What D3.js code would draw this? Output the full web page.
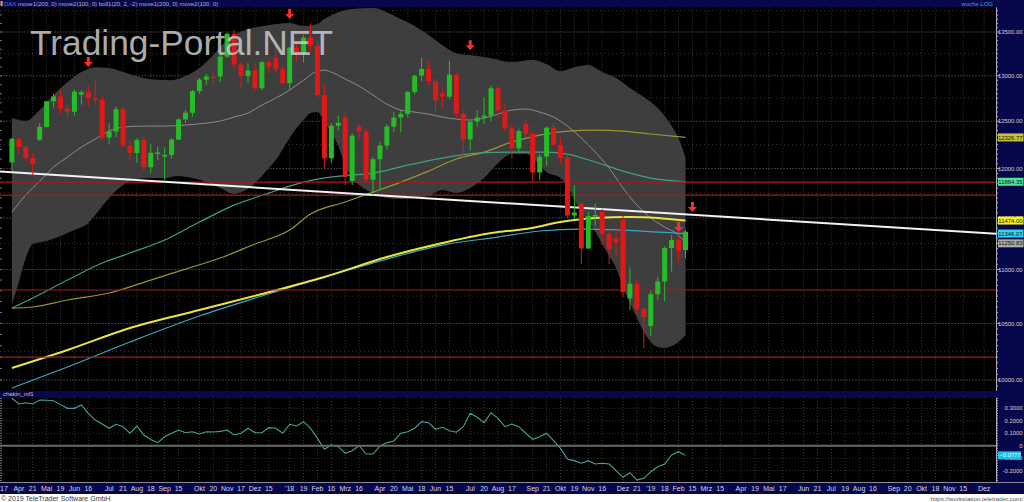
<!DOCTYPE html>
<html><head><meta charset="utf-8">
<script src="https://cdn.jsdelivr.net/npm/d3@7/dist/d3.min.js"></script>
<style>
html,body{margin:0;padding:0;background:#fff;overflow:hidden;}
svg{display:block;font-family:"Liberation Sans",Arial,sans-serif;}
</style></head><body>
<svg id="c" width="1024" height="502"></svg>
<script>
// ---------------- DATA ----------------
// weekly candles, DAX, first week starts Monday 2017-03-27
const firstWeek = "2017-03-27", lastWeek = "2019-02-04";
const open  = [12064,12313,12225,12109,12300,12438,12717,12770,12638,12602,12790,12816,12753,12733,12325,12389,12631,12240,12163,12298,12014,12165,12125,12143,12304,12519,12592,12829,12956,12992,12991,13217,13479,13127,12994,13060,12861,13154,13200,13073,12918,13320,13245,13434,13340,12785,12107,12452,12540,11870,12440,12390,11886,12097,12241,12442,12540,12580,12820,13001,13077,12938,12800,12767,13011,12580,12306,12496,12541,12561,12860,12616,12424,12211,12470,12364,11959,12124,12431,12247,12112,11524,11640,11201,11519,11560,11341,11300,11480,10730,10866,10634,10477,10768,10887,11205,11282,11186];
const high  = [12320,12318,12240,12160,12480,12720,12800,12841,12680,12850,12840,12890,12951,12780,12480,12660,12660,12300,12320,12330,12260,12230,12220,12320,12530,12620,12840,12975,13020,13060,13250,13490,13526,13160,13140,13140,13170,13200,13340,13110,13330,13380,13470,13596,13400,12900,12480,12560,12600,12370,12470,12420,12120,12280,12470,12600,12620,12830,13010,13204,13170,12960,12880,13170,13030,12620,12500,12620,12760,12890,12890,12690,12470,12420,12530,12390,12150,12440,12480,12330,12150,11830,11660,11560,11640,11590,11380,11400,11520,11020,10900,10640,10800,10930,11220,11330,11330,11380];
const low   = [11970,12150,12080,11936,12290,12430,12650,12580,12540,12560,12680,12660,12690,12300,12250,12330,12210,12080,12060,11980,11950,12090,11868,12100,12300,12480,12550,12800,12900,12890,12930,13200,13090,12860,12920,12830,12840,13030,13040,12900,12840,13160,13150,13280,12750,12003,12060,12400,11831,11830,12310,11860,11726,11780,12200,12380,12380,12540,12790,12940,12900,12600,12650,12740,12520,12104,12190,12440,12470,12500,12530,12390,12104,12170,12330,11865,11880,12030,12240,12060,11500,11490,11051,11200,11420,11240,11050,11120,10740,10620,10580,10279,10386,10720,10700,10980,11064,11109];
const close = [12313,12225,12109,12049,12438,12717,12770,12638,12602,12823,12816,12753,12733,12325,12389,12631,12240,12163,12298,12014,12165,12168,12143,12304,12519,12592,12829,12956,12992,12991,13217,13479,13127,12994,13060,12861,13154,13104,13073,12918,13320,13245,13434,13340,12785,12107,12452,12483,11914,12346,12390,11886,12097,12241,12442,12540,12580,12820,13001,13077,12938,12724,12767,13011,12580,12306,12496,12541,12561,12860,12616,12424,12211,12395,12364,11959,12124,12431,12247,12112,11524,11554,11201,11519,11529,11341,11193,11257,10788,10866,10634,10559,10768,10887,11205,11282,11181,11364];

// Bollinger (20, 2) read at these week indices
const bollUpperWeeks = [0,2,4,6,8,10,12,14,17,20,23,25,27,29,31,34,37,40,42,44,45,47,49,52,54,56,58,60,62,64,66,69,72,75,77,79,81,83,85,87,89,91,93,95,96,97];
const bollUpper      = [12534,12502,12621,12785,12929,13041,13097,13086,13018,12962,12951,12996,13086,13234,13406,13534,13580,13604,13569,13592,13651,13733,13769,13781,13733,13651,13569,13464,13348,13256,13234,13199,13154,13177,13131,13052,13097,13120,13041,12974,12863,12763,12643,12448,12320,12109];
const bollLowerWeeks = [0,1,2,3,5,7,9,11,12,14,16,18,20,22,24,26,28,30,32,33,34,35,36,37,38,39,40,41,42,43,44,45,46,47,48,49,50,52,54,56,58,60,62,64,66,68,70,71,72,74,76,77,79,80,81,82,83,84,85,86,87,88,89,90,91,92,93,94,95,96,97];
const bollLower      = [10668,10882,11109,11244,11273,11322,11380,11449,11529,11699,11831,11892,11902,11902,11923,11902,11861,11800,11739,11759,11790,11851,11923,12005,12088,12203,12320,12427,12513,12588,12599,12491,12373,12235,12036,11902,11831,11749,11699,11689,11699,11719,11780,11749,11800,11902,12057,12120,12151,12151,12036,11964,11902,11820,11679,11558,11459,11361,11244,11128,11014,10835,10686,10549,10422,10333,10289,10280,10297,10333,10396];
const bollMidWeeks   = [0,2,4,6,8,10,12,14,16,19,22,25,28,30,32,34,36,38,40,42,44,45,46,48,50,52,54,56,58,60,62,64,66,68,70,72,74,76,78,80,82,84,86,88,90,92,94,96,97];
const bollMid        = [11558,11729,11871,12016,12120,12225,12309,12394,12437,12448,12448,12459,12480,12502,12545,12588,12675,12752,12840,12951,13052,13063,13041,12963,12885,12785,12686,12621,12599,12577,12545,12523,12513,12534,12577,12621,12632,12599,12545,12448,12320,12172,12005,11800,11628,11499,11410,11331,11250.83];

// moving averages read at these week indices
const maOliveWeeks  = [0,3,8,14,20,25,30,35,40,43,48,52,56,60,64,68,72,76,80,84,88,92,97];
const maOlive       = [10640,10650,10714,10779,10900,11004,11109,11244,11380,11538,11659,11759,11861,11974,12099,12172,12277,12352,12394,12405,12394,12363,12326.77];
const maTealWeeks   = [0,3,8,13,17,22,27,32,37,40,44,48,52,57,62,67,72,77,80,84,88,92,97];
const maTeal        = [10640,10733,10900,11061,11157,11283,11459,11628,11749,11820,11892,11928,11954,12036,12109,12161,12172,12172,12151,12068,11974,11902,11864.35];
const maYellowWeeks = [0,8,17,27,36,45,54,62,70,74,79,84,89,93,97];
const maYellow      = [10104,10262,10459,10622,10770,10929,11119,11254,11361,11390,11459,11499,11509,11499,11474.00];
const maCyanWeeks   = [0,8,17,27,36,45,54,62,70,76,82,88,93,97];
const maCyan        = [9931,10113,10333,10567,10751,10929,11099,11234,11312,11371,11390,11380,11361,11346.07];

// horizontal support/resistance levels and trend line
const levels = [11861, 11729, 10807, 10200];
const trendDates = ["2017-03-15", "2019-12-15"];
const trendValues = [11969, 11343];

// sell signal arrows
const signalDates  = ["2017-06-12","2018-01-01","2018-07-02","2019-01-28","2019-02-11"];
const signalValues = [13154, 13710, 13348, 11410, 11608];

// chaikin money flow, weekly
const chaikin = [0.381,0.335,0.345,0.335,0.367,0.365,0.361,0.330,0.300,0.300,0.327,0.260,0.206,0.175,0.140,0.172,0.153,0.100,0.158,0.086,0.050,0.024,0.072,0.100,0.126,0.104,0.112,0.094,0.112,0.110,0.115,0.126,0.086,0.100,0.140,0.104,0.104,0.145,0.140,0.100,0.172,0.158,0.193,0.140,0.059,-0.029,0.006,-0.008,-0.061,-0.040,0.000,-0.067,-0.067,-0.002,0.024,0.038,0.100,0.112,0.140,0.193,0.185,0.132,0.148,0.120,0.108,0.153,0.260,0.228,0.185,0.265,0.220,0.153,0.174,0.153,0.100,0.051,0.072,0.100,0.040,-0.021,-0.109,-0.120,-0.141,-0.120,-0.147,-0.141,-0.147,-0.201,-0.254,-0.217,-0.276,-0.262,-0.209,-0.169,-0.147,-0.075,-0.048,-0.0777];

// axes
const priceTicks = [13500,13000,12500,12000,11500,11000,10500,10000];
const priceGrid = [13750,13500,13250,13000,12750,12500,12250,12000,11750,11500,11250,11000,10750,10500,10250,10000];
const tagValues = [12326.77, 11864.35, 11474.00, 11346.07, 11250.83];
const chaikinTicks = [0.3,0.2,0.1,0,-0.1,-0.2];
const chaikinTickLabels = ["0.3000","0.2000","0.1000","0","-0.1000","-0.2000"];
const chaikinTag = -0.0777;
// month labels sit on the week of the first Friday of each month
const monthTickDates = ["2017-04-07","2017-05-05","2017-06-02","2017-07-07","2017-08-04","2017-09-01","2017-10-06","2017-11-03","2017-12-01","2018-01-05","2018-02-02","2018-03-02","2018-04-06","2018-05-04","2018-06-01","2018-07-06","2018-08-03","2018-09-07","2018-10-05","2018-11-02","2018-12-07","2019-01-04","2019-02-01","2019-03-01","2019-04-05","2019-05-03","2019-06-07","2019-07-05","2019-08-02","2019-09-06","2019-10-04","2019-11-01","2019-12-06"];
const monthTickLabels = ["Apr","Mai","Jun","Jul","Aug","Sep","Okt","Nov","Dez","'18","Feb","Mrz","Apr","Mai","Jun","Jul","Aug","Sep","Okt","Nov","Dez","'19","Feb","Mrz","Apr","Mai","Jun","Jul","Aug","Sep","Okt","Nov","Dez"];
// day labels sit on the week of the third Friday
const dayTickDates = ["2017-03-17","2017-04-21","2017-05-19","2017-06-16","2017-07-21","2017-08-18","2017-09-15","2017-10-20","2017-11-17","2017-12-15","2018-01-19","2018-02-16","2018-03-16","2018-04-20","2018-05-18","2018-06-15","2018-07-20","2018-08-17","2018-09-21","2018-10-19","2018-11-16","2018-12-21","2019-01-18","2019-02-15","2019-03-15","2019-04-19","2019-05-17","2019-06-21","2019-07-19","2019-08-16","2019-09-20","2019-10-18","2019-11-15"];
const dayTickLabels = ["17","21","19","16","21","18","15","20","17","15","19","16","16","20","18","15","20","17","21","19","16","21","18","15","15","19","17","21","19","16","20","18","15"];

// ---------------- DRAW ----------------
const svg = d3.select("#c");
const W = 1024, PR = 996;
const MT = 7.3, MB = 391, LT = 398, LB = 482;
const NAVY = "#07074c";
const parse = s => new Date(s + "T00:00:00Z");
const weekOf = s => d3.utcMonday.floor(parse(s));

const x = d3.scaleUtc().domain([parse("2017-03-15"), parse("2019-12-15")]).range([0, 997]);
const y = d3.scaleLog().domain([10000, 13500]).range([380, 32]);
const yc = d3.scaleLinear().domain([0, 0.3]).range([445.7, 408.35]);
const weeks = d3.utcMonday.range(parse(firstWeek), d3.utcDay.offset(parse(lastWeek), 1));
const wx = i => x(weeks[i]);

// backgrounds
svg.append("rect").attr("width", W).attr("height", 502).attr("fill", "#fff");
svg.append("rect").attr("x", 0).attr("y", 0).attr("width", W).attr("height", 494).attr("fill", NAVY);
svg.append("rect").attr("x", 0).attr("y", MT).attr("width", PR).attr("height", MB - MT).attr("fill", "#000");
svg.append("rect").attr("x", 0).attr("y", LT).attr("width", PR).attr("height", LB - LT).attr("fill", "#000");

const defs = svg.append("defs");
defs.append("clipPath").attr("id", "cm").append("rect").attr("x", 0).attr("y", MT).attr("width", PR).attr("height", MB - MT);
defs.append("clipPath").attr("id", "cl").append("rect").attr("x", 0).attr("y", LT).attr("width", PR).attr("height", LB - LT);

const main = svg.append("g").attr("clip-path", "url(#cm)");
const lower = svg.append("g").attr("clip-path", "url(#cl)");

// bollinger band fill
const curve = d3.curveMonotoneX;
const lineGen = d3.line().curve(curve);
const upPts = bollUpperWeeks.map((k, j) => [wx(k), y(bollUpper[j])]);
const loPts = bollLowerWeeks.map((k, j) => [wx(k), y(bollLower[j])]).reverse();
const bandPath = lineGen(upPts) + lineGen(loPts).replace(/^M/, "L") + "Z";
main.append("path").attr("d", bandPath).attr("fill", "#3e3e3e");

// grid
const vTicks = monthTickDates.map(d => x(weekOf(d))).concat(dayTickDates.map(d => x(weekOf(d))));
const gridG = main.append("g");
priceGrid.forEach(v => {
  gridG.append("line").attr("x1", 0).attr("x2", PR).attr("y1", y(v)).attr("y2", y(v))
    .attr("stroke", v % 500 === 0 ? "#3a3a3a" : "#333").attr("stroke-dasharray", v % 500 === 0 ? "2,1" : "1,3").attr("stroke-width", 1);
});
vTicks.forEach(px => {
  gridG.append("line").attr("x1", px).attr("x2", px).attr("y1", MT).attr("y2", MB)
    .attr("stroke", "#3a3a3a").attr("stroke-dasharray", "1,2");
});
const gridL = lower.append("g");
[0.3,0.2,0.1,-0.1,-0.2].forEach(v => {
  gridL.append("line").attr("x1", 0).attr("x2", PR).attr("y1", yc(v)).attr("y2", yc(v))
    .attr("stroke", "#333").attr("stroke-dasharray", "1,2");
});
vTicks.forEach(px => {
  gridL.append("line").attr("x1", px).attr("x2", px).attr("y1", LT).attr("y2", LB)
    .attr("stroke", "#3a3a3a").attr("stroke-dasharray", "1,2");
});

// indicator lines
function drawLine(weeksIdx, vals, color, w) {
  main.append("path").attr("d", lineGen(weeksIdx.map((k, j) => [wx(k), y(vals[j])])))
    .attr("fill", "none").attr("stroke", color).attr("stroke-width", w);
}
drawLine(bollMidWeeks, bollMid, "#8c8c8c", 1);
drawLine(maOliveWeeks, maOlive, "#9c9430", 1.2);
drawLine(maTealWeeks, maTeal, "#3ea184", 1.2);
drawLine(maCyanWeeks, maCyan, "#3aa6c6", 1.2);
drawLine(maYellowWeeks, maYellow, "#e8e444", 2);

// levels
levels.forEach(v => {
  main.append("line").attr("x1", 0).attr("x2", PR).attr("y1", y(v)).attr("y2", y(v))
    .attr("stroke", "#a41c1c").attr("stroke-width", 1.2);
});

// trend line
main.append("line")
  .attr("x1", x(parse(trendDates[0]))).attr("y1", y(trendValues[0]))
  .attr("x2", x(parse(trendDates[1]))).attr("y2", y(trendValues[1]))
  .attr("stroke", "#f2f2f2").attr("stroke-width", 2);

// candles
const cg = main.append("g");
close.forEach((c, i) => {
  const o = open[i], up = c >= o;
  const col = up ? "#24bd28" : "#e01818";
  const cx = wx(i);
  cg.append("line").attr("x1", cx).attr("x2", cx).attr("y1", y(high[i])).attr("y2", y(low[i]))
    .attr("stroke", col).attr("stroke-width", 1);
  const yt = y(Math.max(o, c)), yb = y(Math.min(o, c));
  cg.append("rect").attr("x", cx - 2.5).attr("width", 5).attr("y", yt).attr("height", Math.max(1.5, yb - yt)).attr("fill", col);
});

// signal arrows
signalDates.forEach((d, i) => {
  const ax = x(parse(d)), ay = y(signalValues[i]);
  main.append("path")
    .attr("d", `M${ax-1.5},${ay-5} L${ax+1.5},${ay-5} L${ax+1.5},${ay} L${ax+4.5},${ay} L${ax},${ay+5} L${ax-4.5},${ay} L${ax-1.5},${ay} Z`)
    .attr("fill", "#ff2b2b");
});

// watermark
svg.append("text").attr("x", 30).attr("y", 55).attr("font-size", 34.5)
  .attr("textLength", 303).attr("lengthAdjust", "spacingAndGlyphs")
  .attr("fill", "#cbcbcb").attr("fill-opacity", 0.85).text("Trading-Portal.NET");

// chaikin line
lower.append("path").attr("d", d3.line()(chaikin.map((v, i) => [wx(i), yc(v)])))
  .attr("fill", "none").attr("stroke", "#47a39c").attr("stroke-width", 1.1);
lower.append("line").attr("x1", 0).attr("x2", PR).attr("y1", yc(0)).attr("y2", yc(0))
  .attr("stroke", "#6a6a6a").attr("stroke-width", 2);

// right axis line + ticks
svg.append("line").attr("x1", PR + 0.5).attr("x2", PR + 0.5).attr("y1", MT).attr("y2", MB).attr("stroke", "#b0b0b0");
svg.append("line").attr("x1", PR + 0.5).attr("x2", PR + 0.5).attr("y1", LT).attr("y2", LB).attr("stroke", "#b0b0b0");
d3.range(9950, 13800, 50).forEach(v => {
  const py = y(v); if (py < MT || py > MB) return;
  svg.append("line").attr("x1", PR).attr("x2", PR + (v % 500 === 0 ? 4 : 2)).attr("y1", py).attr("y2", py).attr("stroke", "#b0b0b0");
  if (v % 100 === 0) svg.append("line").attr("x1", 0).attr("x2", 2).attr("y1", py).attr("y2", py).attr("stroke", "#777");
});
d3.range(-0.28, 0.4, 0.02).forEach(v => {
  const py = yc(v); if (py < LT || py > LB) return;
  svg.append("line").attr("x1", PR).attr("x2", PR + 2).attr("y1", py).attr("y2", py).attr("stroke", "#b0b0b0");
  svg.append("line").attr("x1", 0).attr("x2", 2).attr("y1", py).attr("y2", py).attr("stroke", "#777");
});

// axis text helper
function axText(g, xx, yy, str, fill) {
  return g.append("text").attr("x", xx).attr("y", yy).attr("text-anchor", "end")
    .attr("font-size", 5.9).attr("fill", fill).text(str);
}
// price labels
priceTicks.forEach(v => axText(svg, 1022.5, y(v) + 2.1, d3.format(".2f")(v), "#d4d4d4"));
// value tags
const tagFill = ["#c9c23a", "#4fe39a", "#f2f01e", "#35d3f2", "#a9a9a9"];
tagValues.forEach((v, i) => {
  const py = y(v);
  svg.append("rect").attr("x", 998).attr("y", py - 4).attr("width", 25.5).attr("height", 8).attr("fill", tagFill[i]);
  axText(svg, 1022.5, py + 2.1, d3.format(".2f")(v), "#111");
});
// chaikin labels
chaikinTicks.forEach((v, i) => axText(svg, 1022.5, yc(v) + 2.1, chaikinTickLabels[i], "#d4d4d4"));
svg.append("rect").attr("x", 998).attr("y", yc(chaikinTag) - 4).attr("width", 23).attr("height", 8).attr("fill", "#1cc0e6");
axText(svg, 1020.5, yc(chaikinTag) + 2.1, d3.format(".4f")(chaikinTag), "#f4f4f4");

// header
svg.append("rect").attr("x", 0.5).attr("y", 1).attr("width", 2.2).attr("height", 5).attr("fill", "#e8a020");
const hdr = svg.append("text").attr("x", 4).attr("y", 5.8).attr("font-size", 6).attr("fill", "#b4b4c0");
hdr.append("tspan").attr("fill", "#4d86c0").text("DAX ");
hdr.append("tspan").text("move1(200, 0) move2(100, 0) boll1(20, 2, -2) move1(200, 0) move2(100, 0)");
const wl = svg.append("text").attr("x", 993).attr("y", 5.8).attr("font-size", 6).attr("text-anchor", "end");
wl.append("tspan").attr("fill", "#6f8fb0").text("woche ");
wl.append("tspan").attr("fill", "#3fb2a8").text("LOG");

// separator label
svg.append("text").attr("x", 3).attr("y", 396.3).attr("font-size", 6).attr("fill", "#c4c4cc").text("chakin_mf1");

// bottom date axis
svg.append("line").attr("x1", 0).attr("x2", W).attr("y1", LB + 0.5).attr("y2", LB + 0.5).attr("stroke", "#8a8a9a");
const axG = svg.append("g").attr("font-size", 7).attr("fill", "#d8d8e2");
monthTickDates.forEach((d, i) => {
  axG.append("text").attr("x", x(weekOf(d))).attr("y", 490.8).attr("text-anchor", "middle").text(monthTickLabels[i]);
});
dayTickDates.forEach((d, i) => {
  const px = x(weekOf(d));
  const t = axG.append("text").attr("y", 490.8).text(dayTickLabels[i]);
  if (px < 4) t.attr("x", 0).attr("text-anchor", "start"); else t.attr("x", px).attr("text-anchor", "middle");
});

// footer
svg.append("rect").attr("x", 0).attr("y", 494).attr("width", W).attr("height", 8).attr("fill", "#fff");
svg.append("text").attr("x", 1).attr("y", 500.5).attr("font-size", 7).attr("fill", "#3a3a3a").text("© 2019 TeleTrader Software GmbH");
svg.append("text").attr("x", 1023).attr("y", 500.5).attr("font-size", 6.2).attr("text-anchor", "end").attr("fill", "#555").text("https://workstation.teletrader.com/");
</script>
</body></html>
